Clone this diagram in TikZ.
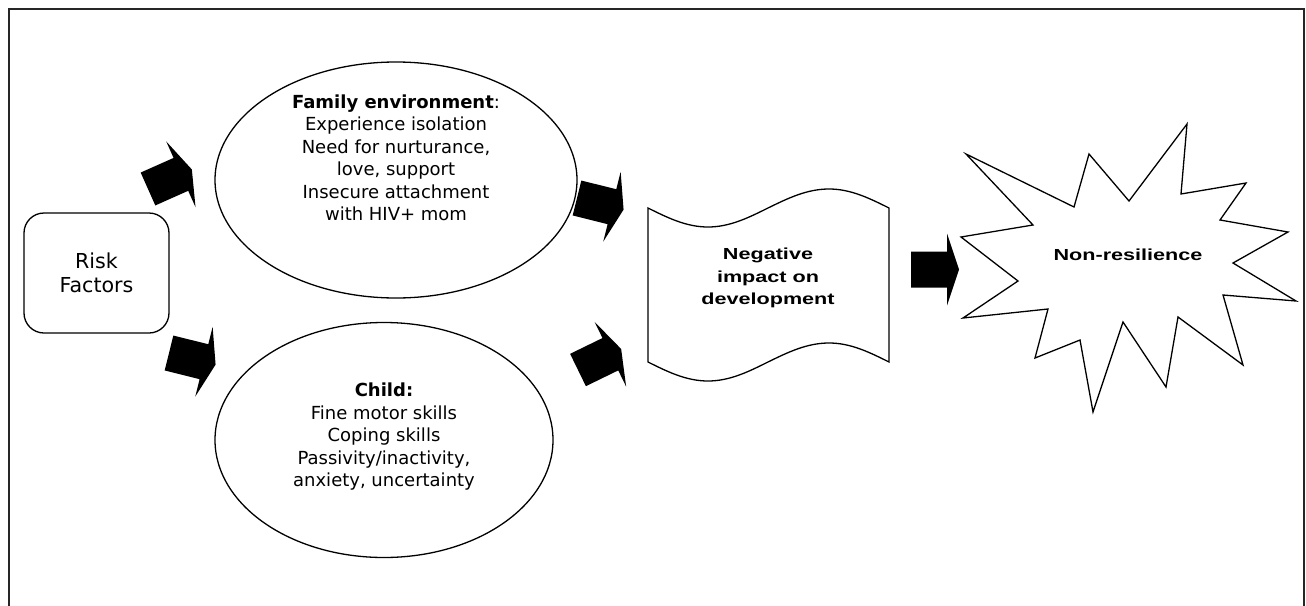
\documentclass[tikz,border=0pt]{standalone}
\usepackage{fontspec}
\setmainfont{DejaVu Sans}
\newfontfamily\headfont{Liberation Sans}[FakeStretch=1.35]
\usetikzlibrary{shapes.geometric}

\tikzset{
  txt/.style={align=center, font=\fontsize{18}{22.5}\selectfont},
  headtxt/.style={align=center, font=\headfont\bfseries\fontsize{16}{22.5}\selectfont},
  bubble/.style={draw, ellipse, line width=1.3pt},
}

\begin{document}
\begin{tikzpicture}[x=1pt, y=1pt, line width=1.3pt]
  \useasboundingbox (0,0) rectangle (1306,-605);

  % Frame
  \draw[line width=1.5pt, black!85] (9,-615) -- (9,-9) -- (1304,-9) -- (1304,-615);

  % Risk factors
  \node[draw, rounded corners=20, minimum width=145, minimum height=120,
        align=center, font=\fontsize{20.6}{24}\selectfont] (risk) at (96.5,-273) {Risk\\Factors};

  % Ellipses
  \node[bubble, minimum width=362, minimum height=236] (family) at (396,-180) {};
  \node[txt] (familytxt) at (396,-158) {\textbf{Family environment}:\\Experience isolation\\Need for nurturance,\\love, support\\Insecure attachment\\with HIV+ mom};

  \node[bubble, minimum width=338, minimum height=235] (child) at (384,-440) {};
  \node[txt] (childtxt) at (384,-437) {\textbf{Child:}\\Fine motor skills\\Coping skills\\Passivity/inactivity,\\anxiety, uncertainty};

  % Punched tape
  \draw (648,-208) sin (708,-227) cos (768,-208) sin (829,-189) cos (889,-208)
     -- (889,-362) sin (829,-343) cos (768,-362) sin (708,-381) cos (648,-362) -- cycle;
  \node[headtxt] (impact) at (768,-278) {Negative\\impact on\\development};

  % Star
  \draw (966,-154) -- (1074,-207) -- (1089,-154) -- (1129,-201) -- (1187,-124)
     -- (1181,-194) -- (1246,-183) -- (1220,-220) -- (1288,-232) -- (1233,-263)
     -- (1296,-301) -- (1223,-295) -- (1243,-365) -- (1178,-317) -- (1166,-387)
     -- (1123,-322) -- (1093,-412) -- (1080,-340) -- (1035,-358) -- (1048,-309)
     -- (963,-318) -- (1018,-281) -- (961,-237) -- (1033,-225) -- cycle;
  \node[headtxt] (nonres) at (1128,-255) {Non-resilience};

  % Block arrows
  \foreach \x/\y/\a in {148/-189/24, 169/-353/-14, 577/-198/-14, 578/-370/26, 911/-269.5/0} {
    \fill[shift={(\x,\y)}, rotate=\a] (0,-18) -- (36,-18) -- (36,-36) -- (48,0)
      -- (36,36) -- (36,18) -- (0,18) -- cycle;
  }
\end{tikzpicture}
\end{document}
